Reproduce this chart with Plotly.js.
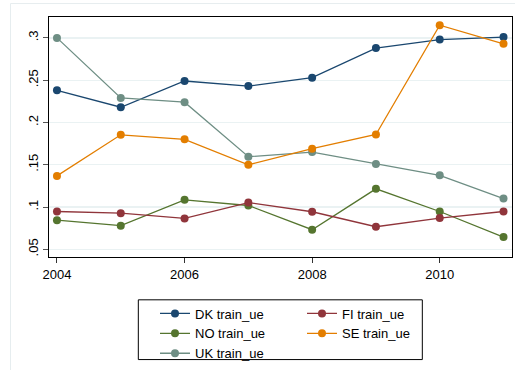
<!DOCTYPE html>
<html>
<head>
<meta charset="utf-8">
<script src="https://cdn.plot.ly/plotly-3.0.1.min.js"></script>
<style>
  html, body { margin: 0; padding: 0; background: #ffffff; }
  #chart { width: 515px; height: 370px; }
</style>
</head>
<body>
<div id="chart"></div>
<script>
// Years on the horizontal axis
const years = [2004, 2005, 2006, 2007, 2008, 2009, 2010, 2011];

// train_ue share by country
const dk = [0.238, 0.218, 0.249, 0.243, 0.253, 0.288, 0.298, 0.301];
const fi = [0.0947, 0.0927, 0.0865, 0.1053, 0.0944, 0.0767, 0.0869, 0.0947];
const no = [0.0845, 0.0779, 0.1085, 0.1018, 0.0732, 0.1215, 0.0947, 0.0645];
const se = [0.1368, 0.1854, 0.180, 0.150, 0.169, 0.1858, 0.315, 0.293];
const uk = [0.300, 0.229, 0.224, 0.1595, 0.165, 0.151, 0.1375, 0.110];

// Axis ticks
const xTicks = [2004, 2006, 2008, 2010];
const yTicks = [0.05, 0.1, 0.15, 0.2, 0.25, 0.3];
const yTickText = ['.05', '.1', '.15', '.2', '.25', '.3'];

function series(name, y, color, legend) {
  return {
    x: years, y: y, name: name, type: 'scatter', mode: 'lines+markers',
    line: { color: color, width: 1.3 },
    marker: { color: color, size: 8 },
    legend: legend
  };
}

const data = [
  series('DK train_ue', dk, '#1a476f', 'legend'),
  series('NO train_ue', no, '#55752f', 'legend'),
  series('UK train_ue', uk, '#6e8e84', 'legend'),
  series('FI train_ue', fi, '#90353b', 'legend2'),
  series('SE train_ue', se, '#e37e00', 'legend2')
];

const legendFont = { family: 'Liberation Sans, Arial, sans-serif', size: 13, color: '#000' };

const layout = {
  width: 515, height: 370,
  margin: { l: 49, r: 3, t: 17, b: 112 },
  paper_bgcolor: '#ffffff', plot_bgcolor: '#ffffff',
  font: { family: 'Liberation Sans, Arial, sans-serif', size: 13, color: '#000' },
  showlegend: true,
  xaxis: {
    range: [2003.875, 2011.133],
    tickvals: xTicks, ticktext: xTicks.map(String),
    showgrid: false, zeroline: false,
    showline: true, mirror: true, linecolor: '#000', linewidth: 1.3,
    ticks: 'outside', ticklen: 5, tickcolor: '#333', tickwidth: 1,
    tickfont: { size: 13 }
  },
  yaxis: {
    range: [0.0409, 0.3247],
    tickvals: yTicks, ticktext: yTickText,
    tickangle: -90,
    showgrid: true, gridcolor: '#eaf2f3', gridwidth: 1.3,
    zeroline: false,
    showline: true, mirror: true, linecolor: '#000', linewidth: 1.3,
    ticks: 'outside', ticklen: 5, tickcolor: '#555', tickwidth: 1,
    tickfont: { size: 13 }
  },
  legend: {
    x: (155 - 49) / 463, y: -0.168, xanchor: 'left', yanchor: 'top',
    xref: 'paper', yref: 'paper',
    bgcolor: 'rgba(0,0,0,0)', borderwidth: 0, font: legendFont,
    orientation: 'v'
  },
  legend2: {
    x: (302 - 49) / 463, y: -0.168, xanchor: 'left', yanchor: 'top',
    xref: 'paper', yref: 'paper',
    bgcolor: 'rgba(0,0,0,0)', borderwidth: 0, font: legendFont,
    orientation: 'v'
  },
  shapes: [
    // faint outer frame
    { type: 'rect', xref: 'paper', yref: 'paper',
      x0: -0.0832, x1: 1.2, y0: -0.7, y1: 1.056,
      line: { color: '#e6edef', width: 1 }, fillcolor: 'rgba(0,0,0,0)', layer: 'below' },
    // legend box
    { type: 'rect', xref: 'paper', yref: 'paper',
      x0: 0.1929, x1: 0.8063, y0: -0.4274, y1: -0.1784,
      line: { color: '#000', width: 1 }, fillcolor: 'rgba(0,0,0,0)' }
  ]
};

Plotly.newPlot('chart', data, layout, { staticPlot: true, displayModeBar: false });
</script>
</body>
</html>
